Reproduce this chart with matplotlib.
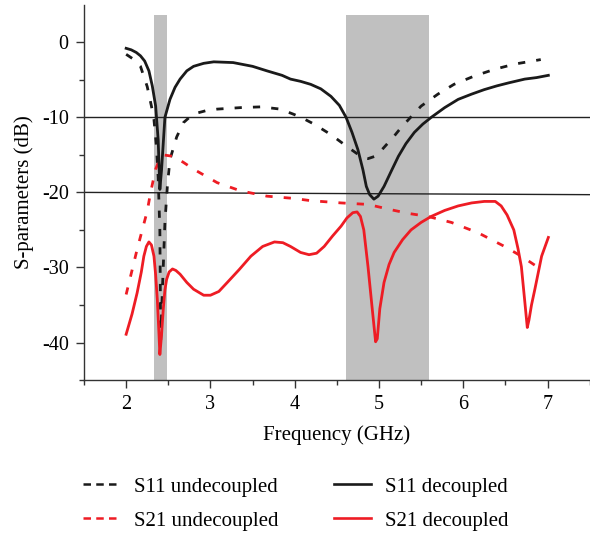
import numpy as np
import matplotlib.pyplot as plt
from matplotlib.lines import Line2D

# S11 decoupled (solid black)
f_s11_dec = [2.0, 2.06, 2.12, 2.17, 2.22, 2.27, 2.31, 2.35, 2.38, 2.40, 2.42, 2.46, 2.52, 2.58, 2.64, 2.72, 2.8, 2.92,
             3.04, 3.27, 3.5, 3.67, 3.85, 3.95, 4.07, 4.19, 4.31, 4.43, 4.53, 4.61, 4.68, 4.75, 4.81, 4.85,
             4.89, 4.94, 4.99, 5.06, 5.14, 5.23, 5.32, 5.42, 5.52, 5.62, 5.78, 5.94, 6.1, 6.25, 6.4,
             6.54, 6.73, 6.87, 7.01]
s11_dec = [-0.8, -1.0, -1.35, -1.8, -2.5, -3.8, -5.8, -8.5, -13.0, -19.6, -17.0, -10.0, -7.6, -6.0, -4.9, -3.8, -3.2, -2.8,
           -2.6, -2.7, -3.2, -3.8, -4.4, -4.9, -5.2, -5.6, -6.2, -7.2, -8.4, -10.0, -12.0, -14.3, -17.0, -19.2,
           -20.3, -20.9, -20.5, -19.2, -17.3, -15.2, -13.5, -12.0, -10.9, -10.0, -8.7, -7.6, -6.9, -6.3, -5.8,
           -5.4, -4.9, -4.7, -4.4]

# S11 undecoupled (dashed black)
f_s11_und = [2.0, 2.08, 2.17, 2.25, 2.30, 2.33, 2.36, 2.38, 2.40, 2.41, 2.43, 2.46, 2.49, 2.52, 2.6, 2.68,
             2.76, 2.85, 2.95, 3.08, 3.22, 3.36, 3.6, 3.83, 3.99, 4.11, 4.23, 4.33, 4.43, 4.61, 4.71, 4.81,
             4.87, 4.95, 5.02, 5.1, 5.18, 5.26, 5.35, 5.5, 5.7, 5.89, 6.13, 6.37, 6.61, 6.92]
s11_und = [-1.6, -2.2, -3.2, -5.9, -8.5, -10.3, -14.0, -18.0, -25.0, -39.6, -33.0, -24.0, -19.0, -15.6, -12.6, -10.7,
           -9.9, -9.4, -9.1, -8.9, -8.8, -8.7, -8.6, -8.9, -9.6, -10.2, -10.9, -11.6, -12.3, -13.8, -14.6, -15.4,
           -15.5, -15.2, -14.5, -13.5, -12.5, -11.4, -10.3, -8.5, -6.9, -5.6, -4.5, -3.6, -2.9, -2.3]

# S21 undecoupled (dashed red)
f_s21_und = [2.0, 2.13, 2.25, 2.29, 2.35, 2.40, 2.44, 2.56, 2.68, 2.8, 3.08, 3.36, 3.67, 3.99, 4.19, 4.55,
             4.87, 5.14, 5.35, 5.58, 5.86, 6.18, 6.49, 6.69, 6.93]
s21_und = [-33.6, -27.6, -22.5, -20.0, -16.9, -15.5, -15.0, -15.2, -16.0, -16.9, -18.7, -19.8, -20.5, -20.8, -21.1, -21.4,
           -21.6, -22.3, -22.8, -23.2, -24.0, -25.4, -27.2, -28.5, -30.3]

# S21 decoupled (solid red)
f_s21_dec = [2.0, 2.07, 2.13, 2.18, 2.21, 2.24, 2.27, 2.30, 2.33, 2.35, 2.37, 2.39, 2.40, 2.42, 2.44, 2.46, 2.48,
             2.51, 2.55, 2.59, 2.64, 2.72, 2.8, 2.92, 3.0, 3.1, 3.2, 3.34, 3.48, 3.62, 3.76, 3.86, 3.95,
             4.07, 4.17, 4.26, 4.35, 4.45, 4.55, 4.62, 4.69, 4.74, 4.78, 4.82, 4.87, 4.92, 4.96, 4.98, 5.01,
             5.06, 5.12, 5.18, 5.28, 5.38, 5.5, 5.62, 5.78, 5.94, 6.1, 6.25, 6.38, 6.45, 6.52, 6.6, 6.65,
             6.69, 6.73, 6.76, 6.78, 6.81, 6.85, 6.93, 7.01]
s21_dec = [-38.9, -36.2, -33.4, -30.6, -28.5, -27.2, -26.6, -27.0, -28.5, -31.0, -34.3, -39.0, -41.6, -39.0, -35.6, -33.0, -31.6,
           -30.6, -30.2, -30.4, -30.9, -32.0, -32.9, -33.7, -33.7, -33.2, -32.0, -30.3, -28.5, -27.2, -26.6, -26.7, -27.2,
           -28.0, -28.3, -28.1, -27.2, -25.8, -24.5, -23.4, -22.7, -22.6, -23.2, -25.0, -29.9, -35.5, -39.9, -39.5, -35.5,
           -32.0, -29.6, -28.0, -26.3, -25.0, -24.0, -23.2, -22.4, -21.8, -21.4, -21.2, -21.2, -21.8, -23.0, -25.0, -27.5,
           -29.9, -34.5, -38.0, -37.0, -35.0, -32.9, -28.5, -26.0]

labels = ["S11 undecoupled", "S21 undecoupled", "S11 decoupled", "S21 decoupled"]

# shaded bands and reference lines
bands = [(2.333, 2.488), (4.607, 5.595)]
band_top = 3.7
ref_x = [1.5, 7.5]
ref_10 = [-10.0, -10.0]
ref_20 = [-20.0, -20.3]

plt.rcParams['font.family'] = ['Liberation Serif', 'DejaVu Serif']

black = "#1a1a1a"
red = "#ee1c24"

fig = plt.figure(figsize=(5.9, 5.33), dpi=100)
ax = fig.add_axes([0.1424, 0.287, 0.857, 0.704])

for b0, b1 in bands:
    ax.fill_between([b0, b1], -45, band_top, color="#c0c0c0", lw=0, zorder=1)

ax.plot(ref_x, ref_10, color="#222222", lw=1.0, zorder=2)
ax.plot(ref_x, ref_20, color="#222222", lw=1.0, zorder=2)

# dashed curves
ax.plot(f_s11_und, s11_und, color=black, lw=2.0, dashes=(2.6, 4.0), zorder=3)
ax.plot(f_s21_und, s21_und, color=red, lw=2.0, dashes=(2.6, 4.0), zorder=3)
# solid curves
ax.plot(f_s11_dec, s11_dec, color=black, lw=2.0, zorder=4)
ax.plot(f_s21_dec, s21_dec, color=red, lw=2.0, zorder=4)

ax.set_xlim(1.5, 7.5)
ax.set_ylim(-45, 5)
ax.spines["top"].set_visible(False)
ax.spines["right"].set_visible(False)
for s in ["left", "bottom"]:
    ax.spines[s].set_color("#333333")
    ax.spines[s].set_linewidth(1.0)

ax.set_xticks([2, 3, 4, 5, 6, 7])
ax.set_xticks(np.arange(1.5, 7.6, 0.5), minor=True)
ax.set_yticks([0, -10, -20, -30, -40])
ax.set_yticks([-45, -35, -25, -15, -5], minor=True)
ax.set_yticklabels(["0", "-10", "-20", "-30", "-40"])
ax.tick_params("both", which="major", length=6, width=1.0, color="#333333", labelsize=14.5, pad=5)
ax.tick_params("both", which="minor", length=3.5, width=1.0, color="#333333")

ax.set_xlabel("Frequency (GHz)", fontsize=15, labelpad=8)
ax.set_ylabel("S-parameters (dB)", fontsize=15, labelpad=6)

# legend handles (shorter dash pattern than the plotted lines)
handles = [Line2D([], [], color=black, lw=1.8, dashes=(3.0, 2.1)),
           Line2D([], [], color=red, lw=1.8, dashes=(3.0, 2.1)),
           Line2D([], [], color=black, lw=1.9),
           Line2D([], [], color=red, lw=1.9)]
fig.legend(handles, labels, ncol=2, loc="upper left", bbox_to_anchor=(0.14, 0.105),
           frameon=False, fontsize=15, handlelength=1.75, handletextpad=0.7,
           columnspacing=2.7, labelspacing=0.7, borderpad=0, borderaxespad=0)

fig.savefig("out.png", dpi=100)
